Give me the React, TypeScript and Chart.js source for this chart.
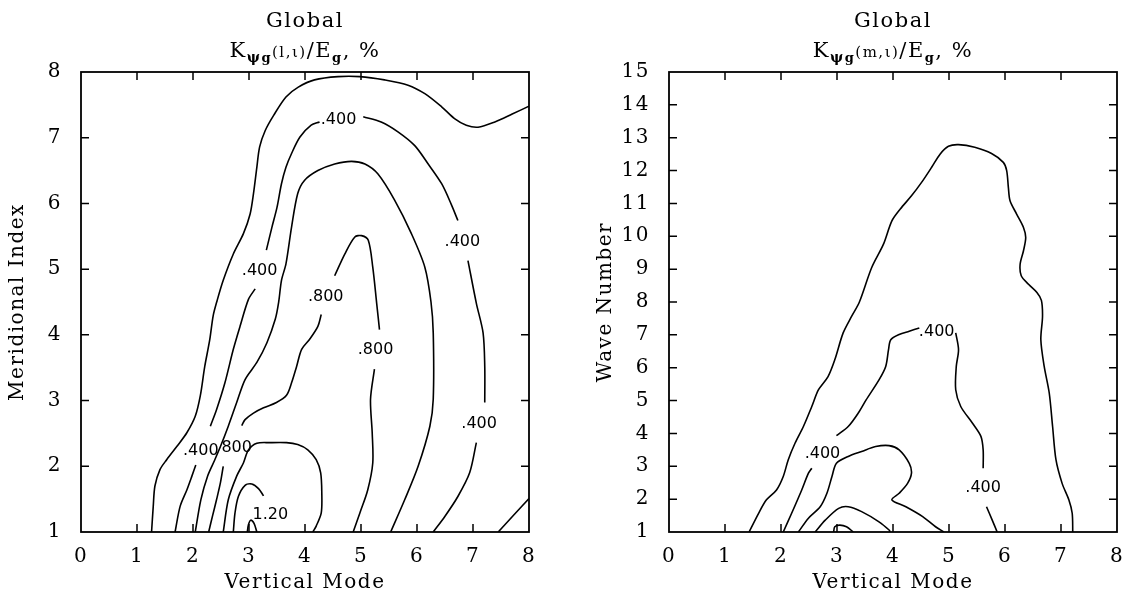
import React, { useEffect, useRef } from 'react';
import { Chart, registerables } from 'chart.js';
Chart.register(...registerables);

type P = [number, number];

// ---------- axis settings ----------
const xMin = 0;
const xMax = 8;
const leftYMin = 1;
const leftYMax = 8;
const rightYMin = 1;
const rightYMax = 15;
const xAxisTitle = 'Vertical Mode';
const leftYAxisTitle = 'Meridional Index';
const rightYAxisTitle = 'Wave Number';
const chartHeading = 'Global';

// ---------- left panel: K(l, vertical mode) contours ----------
const leftA1: P[] = [[1.26,1.0],[1.29,1.39],[1.32,1.70],[1.41,1.95],[1.53,2.10],[1.71,2.30],[1.89,2.51],[2.04,2.76],[2.13,3.07],[2.21,3.52],[2.30,3.93],[2.36,4.29],[2.43,4.52],[2.54,4.83],[2.72,5.23],[2.90,5.54],[3.02,5.84],[3.08,6.15],[3.14,6.55],[3.19,6.86],[3.29,7.11],[3.44,7.34],[3.66,7.62],[3.88,7.77],[4.17,7.88],[4.59,7.93],[4.98,7.93],[5.42,7.88],[5.84,7.80],[6.14,7.67],[6.44,7.47],[6.67,7.29],[6.88,7.19],[7.09,7.16],[7.39,7.24],[7.70,7.36],[8.0,7.48]];
const leftA2: P[] = [[7.45,1.0],[7.72,1.25],[8.0,1.51]];
const leftB1: P[] = [[1.68,1.0],[1.77,1.39],[1.89,1.64],[1.98,1.85],[2.05,2.02]];
const leftB2: P[] = [[2.31,2.61],[2.42,2.86],[2.57,3.27],[2.72,3.78],[2.84,4.13],[2.99,4.54],[3.11,4.70]];
const leftB3: P[] = [[3.31,5.29],[3.41,5.64],[3.50,5.94],[3.58,6.30],[3.66,6.55],[3.76,6.76],[3.91,7.01],[4.11,7.19],[4.26,7.24]];
const leftB4: P[] = [[5.04,7.32],[5.36,7.24],[5.66,7.09],[5.96,6.88],[6.20,6.60],[6.44,6.30],[6.61,5.99],[6.73,5.74]];
const leftB5: P[] = [[6.91,5.13],[7.06,4.48],[7.18,4.03],[7.21,3.52],[7.21,2.97]];
const leftB6: P[] = [[7.06,2.36],[6.94,1.90],[6.73,1.54],[6.50,1.24],[6.29,1.0]];
const leftC: P[] = [[2.04,1.0],[2.14,1.49],[2.26,1.85],[2.39,2.10],[2.49,2.30],[2.63,2.61],[2.78,2.97],[2.93,3.32],[3.14,3.58],[3.32,3.88],[3.47,4.24],[3.53,4.50],[3.58,4.83],[3.66,5.08],[3.76,5.64],[3.87,6.15],[3.99,6.35],[4.23,6.50],[4.53,6.60],[4.83,6.64],[5.07,6.60],[5.30,6.45],[5.60,6.05],[5.90,5.54],[6.14,5.03],[6.25,4.50],[6.29,4.03],[6.29,3.02],[6.23,2.61],[6.02,2.0],[5.78,1.49],[5.53,1.0]];
const leftD1: P[] = [[2.28,1.0],[2.35,1.25],[2.42,1.49],[2.49,1.75],[2.54,2.0]];
const leftD2: P[] = [[2.87,2.62],[2.93,2.71],[3.08,2.81],[3.26,2.89],[3.49,2.97],[3.67,3.08],[3.76,3.27],[3.85,3.52],[3.94,3.78],[4.08,3.93],[4.23,4.13],[4.29,4.31]];
const leftD3: P[] = [[4.53,4.90],[4.71,5.23],[4.89,5.49],[5.01,5.51],[5.13,5.44],[5.21,5.03],[5.28,4.48],[5.33,4.08]];
const leftD4: P[] = [[5.24,3.48],[5.17,3.02],[5.20,2.51],[5.21,2.05],[5.12,1.64],[4.98,1.29],[4.86,1.0]];
const leftE: P[] = [[2.54,1.0],[2.63,1.49],[2.78,1.85],[2.90,2.05],[2.99,2.25],[3.14,2.35],[3.37,2.36],[3.67,2.36],[3.87,2.33],[4.05,2.25],[4.20,2.10],[4.28,1.90],[4.30,1.59],[4.29,1.29],[4.20,1.09],[4.14,1.0]];
const leftF: P[] = [[2.72,1.0],[2.75,1.29],[2.81,1.54],[2.93,1.71],[3.05,1.73],[3.17,1.66],[3.26,1.55]];
const leftG: P[] = [[2.97,1.0],[2.99,1.11],[3.03,1.18],[3.09,1.13],[3.14,1.0]];

const leftLabelText = ['.400', '800', '.400', '.400', '.400', '.800', '.800', '.400', '1.20'];
const leftLabelX = [2.14, 2.78, 3.19, 4.60, 6.81, 4.37, 5.26, 7.11, 3.38];
const leftLabelY = [2.24, 2.28, 4.97, 7.27, 5.41, 4.58, 3.77, 2.64, 1.26];

// ---------- right panel: K(m, vertical mode) contours ----------
const rightA: P[] = [[1.43,1.0],[1.60,1.57],[1.74,1.98],[1.92,2.28],[2.04,2.69],[2.13,3.20],[2.25,3.70],[2.40,4.21],[2.55,4.82],[2.67,5.33],[2.84,5.73],[2.96,6.24],[3.11,7.06],[3.26,7.56],[3.40,8.0],[3.62,9.05],[3.83,9.76],[3.98,10.47],[4.13,10.83],[4.33,11.23],[4.51,11.64],[4.69,12.10],[4.84,12.50],[4.99,12.74],[5.17,12.79],[5.46,12.71],[5.76,12.52],[5.97,12.25],[6.03,12.00],[6.06,11.49],[6.09,11.08],[6.21,10.67],[6.33,10.27],[6.37,9.96],[6.33,9.56],[6.27,9.15],[6.29,8.80],[6.42,8.54],[6.57,8.29],[6.65,8.05],[6.67,7.56],[6.64,6.85],[6.70,6.04],[6.79,5.23],[6.85,4.21],[6.91,3.20],[7.02,2.48],[7.14,1.98],[7.20,1.57],[7.21,1.0]];
const rightB1: P[] = [[2.04,1.0],[2.19,1.57],[2.37,2.28],[2.49,2.79],[2.55,2.94]];
const rightB2: P[] = [[2.99,3.93],[3.20,4.21],[3.38,4.62],[3.52,5.02],[3.75,5.63],[3.87,6.04],[3.92,6.55],[3.96,6.85],[4.11,7.01],[4.29,7.11],[4.47,7.21]];
const rightB3: P[] = [[5.12,7.06],[5.17,6.55],[5.13,6.04],[5.12,5.33],[5.21,4.82],[5.42,4.31],[5.57,3.91],[5.61,3.50],[5.61,2.94]];
const rightB4: P[] = [[5.67,1.77],[5.77,1.37],[5.86,1.0]];
const rightC: P[] = [[2.31,1.0],[2.49,1.42],[2.70,1.77],[2.82,2.18],[2.91,2.69],[2.99,3.09],[3.20,3.30],[3.44,3.45],[3.69,3.60],[3.93,3.63],[4.11,3.50],[4.29,3.09],[4.33,2.79],[4.26,2.48],[4.11,2.18],[3.98,1.98],[4.23,1.77],[4.53,1.47],[4.76,1.16],[4.91,1.0]];
const rightD: P[] = [[2.61,1.0],[2.79,1.36],[3.03,1.72],[3.20,1.77],[3.44,1.62],[3.75,1.31],[3.93,1.06],[3.95,1.0]];
const rightE: P[] = [[2.94,1.0],[2.96,1.16],[3.05,1.21],[3.17,1.16],[3.29,1.0]];

const rightLabelText = ['.400', '.400', '.400'];
const rightLabelX = [2.74, 4.78, 5.61];
const rightLabelY = [3.37, 7.08, 2.33];

const leftLines: P[][] = [leftA1, leftA2, leftB1, leftB2, leftB3, leftB4, leftB5, leftB6, leftC, leftD1, leftD2, leftD3, leftD4, leftE, leftF, leftG];
const rightLines: P[][] = [rightA, rightB1, rightB2, rightB3, rightB4, rightC, rightD, rightE];

// ---------- styling ----------
const SERIF = '"DejaVu Serif", serif';
const LABEL_FONT = '16px "DejaVu Sans", sans-serif';

type Piece = { t: string; size: number; bold?: boolean; sub?: number };
const leftTitlePieces: Piece[] = [
  { t: 'K', size: 21 },
  { t: 'ψ', size: 14, bold: true, sub: 5 },
  { t: 'g', size: 13, bold: true, sub: 5 },
  { t: '(l,ι)', size: 15 },
  { t: '/E', size: 21 },
  { t: 'g', size: 13, bold: true, sub: 5 },
  { t: ', %', size: 21 },
];
const rightTitlePieces: Piece[] = [
  { t: 'K', size: 21 },
  { t: 'ψ', size: 14, bold: true, sub: 5 },
  { t: 'g', size: 13, bold: true, sub: 5 },
  { t: '(m,ι)', size: 15 },
  { t: '/E', size: 21 },
  { t: 'g', size: 13, bold: true, sub: 5 },
  { t: ', %', size: 21 },
];

function makeDecor(labels: { text: string[]; x: number[]; y: number[] }, pieces: Piece[]) {
  return {
    id: 'decor',
    beforeDraw(chart: any) {
      try { chart.ctx.letterSpacing = '1.5px'; } catch (e) {}
    },
    afterDraw(chart: any) {
      const { ctx, chartArea: ca, scales } = chart;
      const xs = scales.x;
      const ys = scales.y;
      ctx.save();
      ctx.strokeStyle = '#000';
      ctx.lineWidth = 1.8;
      ctx.strokeRect(ca.left, ca.top, ca.right - ca.left, ca.bottom - ca.top);
      const tl = 8;
      ctx.lineWidth = 1.5;
      ctx.beginPath();
      xs.ticks.forEach((t: any) => {
        const px = xs.getPixelForValue(t.value);
        if (px <= ca.left + 1 || px >= ca.right - 1) return;
        ctx.moveTo(px, ca.bottom);
        ctx.lineTo(px, ca.bottom - tl);
        ctx.moveTo(px, ca.top);
        ctx.lineTo(px, ca.top + tl);
      });
      ys.ticks.forEach((t: any) => {
        const py = ys.getPixelForValue(t.value);
        if (py <= ca.top + 1 || py >= ca.bottom - 1) return;
        ctx.moveTo(ca.left, py);
        ctx.lineTo(ca.left + tl, py);
        ctx.moveTo(ca.right, py);
        ctx.lineTo(ca.right - tl, py);
      });
      ctx.stroke();

      // contour labels
      try { ctx.letterSpacing = '0px'; } catch (e) {}
      ctx.fillStyle = '#000';
      ctx.font = LABEL_FONT;
      ctx.textAlign = 'center';
      ctx.textBaseline = 'middle';
      labels.text.forEach((s, i) => {
        ctx.fillText(s, xs.getPixelForValue(labels.x[i]), ys.getPixelForValue(labels.y[i]));
      });

      // heading
      const cx = (ca.left + ca.right) / 2;
      try { ctx.letterSpacing = '1.5px'; } catch (e) {}
      ctx.textBaseline = 'alphabetic';
      ctx.font = '21px ' + SERIF;
      ctx.fillText(chartHeading, cx, 27);
      ctx.textAlign = 'left';
      let total = 0;
      const widths = pieces.map((p) => {
        ctx.font = (p.bold ? 'bold ' : '') + p.size + 'px ' + SERIF;
        const w = ctx.measureText(p.t).width;
        total += w;
        return w;
      });
      let x = cx - total / 2;
      pieces.forEach((p, i) => {
        ctx.font = (p.bold ? 'bold ' : '') + p.size + 'px ' + SERIF;
        ctx.fillText(p.t, x, 57 + (p.sub || 0));
        x += widths[i];
      });
      ctx.restore();
    },
  };
}

function buildConfig(
  lines: P[][],
  yMin: number,
  yMax: number,
  yTitle: string,
  padLeft: number,
  padRight: number,
  labels: { text: string[]; x: number[]; y: number[] },
  pieces: Piece[]
): any {
  return {
    type: 'scatter',
    data: {
      datasets: lines.map((ln) => ({
        data: ln.map(([x, y]) => ({ x, y })),
        showLine: true,
        borderColor: '#000',
        borderWidth: 1.6,
        pointRadius: 0,
        pointHoverRadius: 0,
        tension: 0.3,
        fill: false,
      })),
    },
    options: {
      responsive: false,
      animation: false,
      events: [],
      layout: { padding: { left: padLeft, right: padRight, top: 72, bottom: 0 } },
      plugins: { legend: { display: false }, tooltip: { enabled: false }, title: { display: false } },
      scales: {
        x: {
          type: 'linear',
          min: xMin,
          max: xMax,
          grid: { display: false },
          border: { display: false },
          ticks: { stepSize: 1, autoSkip: false, padding: 5, color: '#000', font: { family: SERIF, size: 20 } },
          title: { display: true, text: xAxisTitle, color: '#000', font: { family: SERIF, size: 20, lineHeight: 1 }, padding: 0 },
          afterFit: (s: any) => { s.height = 61; },
        },
        y: {
          type: 'linear',
          min: yMin,
          max: yMax,
          grid: { display: false },
          border: { display: false },
          ticks: { stepSize: 1, autoSkip: false, padding: 11, color: '#000', font: { family: SERIF, size: 20 } },
          title: { display: true, text: yTitle, color: '#000', font: { family: SERIF, size: 20, lineHeight: 1 }, padding: { top: 8, bottom: 0 } },
          afterFit: (s: any) => { s.width = 81; },
        },
      },
    },
    plugins: [makeDecor(labels, pieces)],
  };
}

function Panel(props: { left: number; width: number; config: () => any }) {
  const ref = useRef<HTMLCanvasElement | null>(null);
  useEffect(() => {
    if (!ref.current) return;
    const chart = new Chart(ref.current, props.config());
    return () => chart.destroy();
  }, []);
  return (
    <canvas
      ref={ref}
      width={props.width}
      height={593}
      style={{ position: 'absolute', left: props.left, top: 0, width: props.width, height: 593 }}
    />
  );
}

export default function App() {
  return (
    <div style={{ position: 'fixed', left: 0, top: 0, width: 1129, height: 593, background: '#fff', overflow: 'hidden' }}>
      <Panel
        left={0}
        width={564}
        config={() =>
          buildConfig(leftLines, leftYMin, leftYMax, leftYAxisTitle, 0, 35,
            { text: leftLabelText, x: leftLabelX, y: leftLabelY }, leftTitlePieces)
        }
      />
      <Panel
        left={564}
        width={565}
        config={() =>
          buildConfig(rightLines, rightYMin, rightYMax, rightYAxisTitle, 24, 12,
            { text: rightLabelText, x: rightLabelX, y: rightLabelY }, rightTitlePieces)
        }
      />
    </div>
  );
}
